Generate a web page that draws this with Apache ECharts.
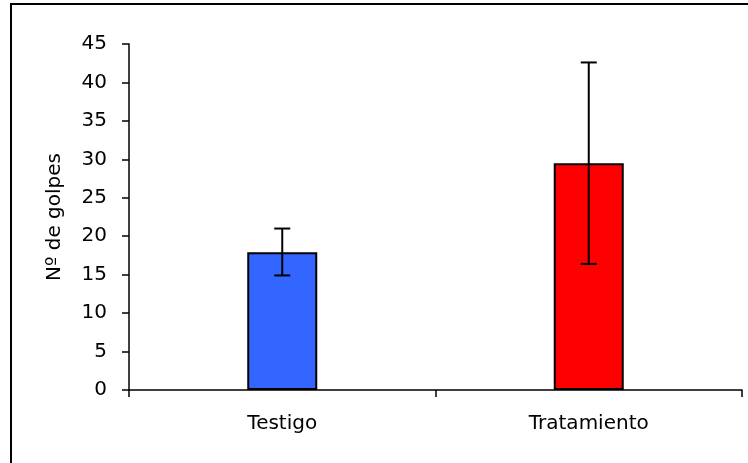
<!DOCTYPE html>
<html>
<head>
<meta charset="utf-8">
<script src="https://cdn.jsdelivr.net/npm/echarts@6/dist/echarts.min.js"></script>
<style>
  html, body { margin: 0; padding: 0; background: #fff; }
  #main { width: 748px; height: 463px; }
</style>
</head>
<body>
<div id="main"></div>
<script>
// datos del grafico
var categories = ['Testigo', 'Tratamiento'];
var meanValues = [17.9, 29.5];
var errLow = [14.9, 16.4];
var errHigh = [21.0, 42.6];
var barColors = ['#3366FF', '#FF0000'];
var yTicks = [0, 45, 5]; // min, max, intervalo

var myChart = echarts.init(document.getElementById('main'));

var errData = categories.map(function (c, i) {
    return [i, errLow[i], errHigh[i]];
});

var fuente = 'DejaVu Sans, sans-serif';

var option = {
    animation: false,
    textStyle: { fontFamily: fuente },
    graphic: [{
        type: 'rect',
        shape: { x: 11, y: 4, width: 780, height: 500 },
        style: { fill: 'none', stroke: '#000', lineWidth: 2 },
        silent: true
    }],
    grid: { left: 129, top: 44, right: 6, bottom: 73 },
    xAxis: {
        type: 'category',
        data: categories,
        axisLine: { lineStyle: { color: '#000', width: 1.5 } },
        axisTick: { show: true, length: 7, alignWithLabel: false, lineStyle: { color: '#000', width: 1.5 } },
        axisLabel: { color: '#000', fontSize: 20, fontFamily: fuente, margin: 24 }
    },
    yAxis: {
        type: 'value',
        min: yTicks[0],
        max: yTicks[1],
        interval: yTicks[2],
        name: 'Nº de golpes',
        nameLocation: 'middle',
        nameGap: 64,
        nameTextStyle: { color: '#000', fontSize: 20, fontFamily: fuente },
        axisLine: { show: true, lineStyle: { color: '#000', width: 1.5 } },
        axisTick: { show: true, length: 7, lineStyle: { color: '#000', width: 1.5 } },
        axisLabel: { color: '#000', fontSize: 20, fontFamily: fuente, margin: 22 },
        splitLine: { show: false }
    },
    series: [{
        type: 'bar',
        barWidth: 70,
        data: meanValues.map(function (v, i) {
            return { value: v, itemStyle: { color: barColors[i] } };
        }),
        itemStyle: { borderColor: '#000', borderWidth: 2 }
    }, {
        type: 'custom',
        data: errData,
        z: 10,
        renderItem: function (params, api) {
            var x = api.value(0);
            var lo = api.coord([x, api.value(1)]);
            var hi = api.coord([x, api.value(2)]);
            var half = 8;
            var st = { stroke: '#000', lineWidth: 2 };
            return {
                type: 'group',
                children: [
                    { type: 'line', shape: { x1: hi[0], y1: hi[1], x2: lo[0], y2: lo[1] }, style: st },
                    { type: 'line', shape: { x1: hi[0] - half, y1: hi[1], x2: hi[0] + half, y2: hi[1] }, style: st },
                    { type: 'line', shape: { x1: lo[0] - half, y1: lo[1], x2: lo[0] + half, y2: lo[1] }, style: st }
                ]
            };
        }
    }]
};

myChart.setOption(option);
</script>
</body>
</html>
